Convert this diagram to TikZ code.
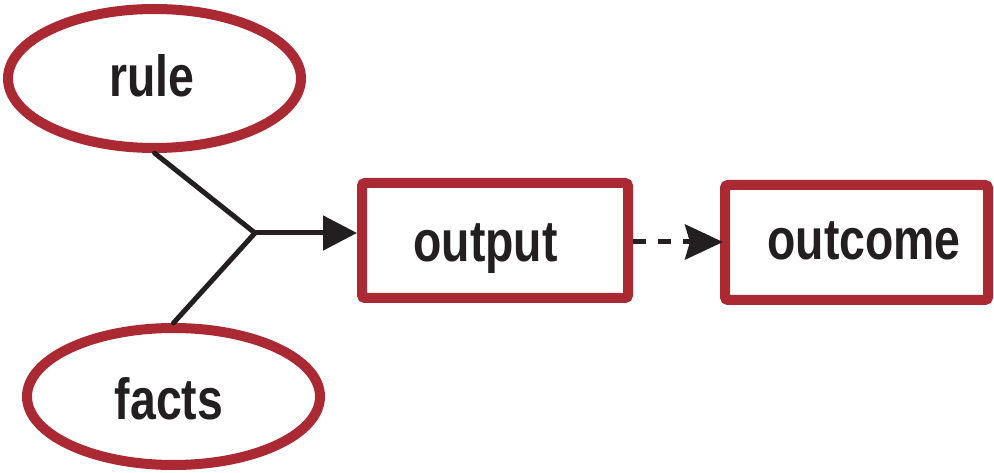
\documentclass[tikz,border=0pt]{standalone}
\usepackage{fontspec}
\newfontfamily\lblfont{Liberation Sans}[FakeStretch=0.8]
\usetikzlibrary{shapes.geometric,arrows.meta}
\definecolor{boxred}{RGB}{171,41,50}
\definecolor{inkblack}{RGB}{35,31,32}
\begin{document}
\begin{tikzpicture}[x=1pt,y=-1pt,
  every label/.style={font=\lblfont\bfseries\fontsize{58}{60}\selectfont, text=inkblack,
    inner sep=0pt, text height=42pt, text depth=0pt},
  oval/.style={ellipse, draw=boxred, line width=10pt, inner sep=0pt},
  rbox/.style={rectangle, draw=boxred, line width=10pt, rounded corners=3pt, inner sep=0pt,
    minimum width=266pt, minimum height=115pt},
  conn/.style={draw=inkblack, line width=5pt, line cap=round}
]
\useasboundingbox (0,0) rectangle (994,473);
\node[oval, minimum width=293pt, minimum height=139pt,
  label={[xshift=-2.5pt, yshift=2.5pt]center:rule}] (rule) at (154.5,78.5) {};
\node[oval, minimum width=293pt, minimum height=137pt,
  label={[xshift=-4.5pt, yshift=-1.5pt]center:facts}] (facts) at (173.5,396.5) {};
\node[rbox, label={[xshift=-9.5pt, yshift=-0.5pt]center:output}] (output) at (495,240.5) {};
\node[rbox, minimum width=263pt, label={[xshift=7.5pt, yshift=3.5pt]center:outcome}] (outcome) at (856.5,242.5) {};
\coordinate (join) at (255,233);
\draw[conn] (rule.south) -- (join);
\draw[conn] (facts.north) -- (join);
\draw[conn, line cap=butt, -{Triangle[length=34pt,width=34pt]}] (join) -- (output.west |- join);
\draw[conn, line cap=butt, dash pattern=on 13pt off 12pt,
  -{Stealth[length=38pt,width=35pt,inset=5pt]}] (output.east |- 0,242) -- ([xshift=3pt]outcome.west |- 0,242);
\end{tikzpicture}
\end{document}
